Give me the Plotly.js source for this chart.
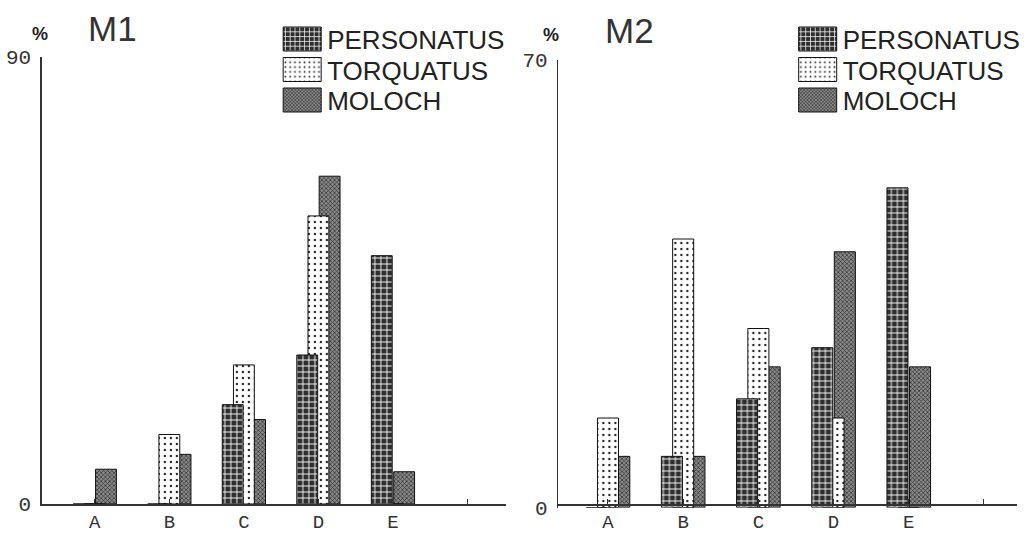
<!DOCTYPE html>
<html>
<head>
<meta charset="utf-8">
<script src="https://cdn.plot.ly/plotly-3.0.1.min.js"></script>
<style>html,body{margin:0;padding:0;background:#fff;}#chart{width:1026px;height:535px;}</style>
</head>
<body>
<div id="chart"></div>
<script>
// ---- data ----
const categories = ['A', 'B', 'C', 'D', 'E'];
const tickLabels = ['A', 'B', 'C', 'D', 'E', ''];
const seriesNames = ['PERSONATUS', 'TORQUATUS', 'MOLOCH'];
// M1 (left panel), %
const m1Personatus = [0, 0, 20, 30, 50];
const m1Torquatus  = [0, 14, 28, 58, 0];
const m1Moloch     = [7, 10, 17, 66, 6.5];
// M2 (right panel), %
const m2Personatus = [0, 8, 17, 25, 50];
const m2Torquatus  = [14, 42, 28, 14, 0];
const m2Moloch     = [8, 8, 22, 40, 22];
const m1Max = 90, m2Max = 70;

// ---- styles ----
const xPos = categories.map((c, i) => i);
const W = 0.28, SH = 0.15;
const styles = {
  PERSONATUS: {offset: -SH - W/2, color: '#2e2e2e',
    pattern: {shape: '+', bgcolor: '#2e2e2e', fgcolor: '#ffffff', size: 6, solidity: 0.28, fillmode: 'replace'}},
  TORQUATUS: {offset: -W/2, color: '#ffffff',
    pattern: {shape: '.', bgcolor: '#ffffff', fgcolor: '#222222', size: 6, solidity: 0.12, fillmode: 'replace'}},
  MOLOCH: {offset: SH - W/2, color: '#777777',
    pattern: {shape: 'x', bgcolor: '#8a8a8a', fgcolor: '#2a2a2a', size: 3, solidity: 0.4, fillmode: 'replace'}}
};

function mk(name, vals, xa, ya, leg) {
  const s = styles[name];
  return {
    type: 'bar', name: name, x: xPos, y: vals, xaxis: xa, yaxis: ya,
    width: W, offset: s.offset, legend: leg, hoverinfo: 'skip',
    marker: {color: s.color, pattern: s.pattern, line: {color: '#111', width: 1}}
  };
}
// draw back-to-front: MOLOCH, TORQUATUS, PERSONATUS (front)
const traces = [
  mk('MOLOCH', m1Moloch, 'x', 'y', 'legend'),
  mk('TORQUATUS', m1Torquatus, 'x', 'y', 'legend'),
  mk('PERSONATUS', m1Personatus, 'x', 'y', 'legend'),
  mk('MOLOCH', m2Moloch, 'x2', 'y2', 'legend2'),
  mk('TORQUATUS', m2Torquatus, 'x2', 'y2', 'legend2'),
  mk('PERSONATUS', m2Personatus, 'x2', 'y2', 'legend2')
];

const monoFont = {family: 'Liberation Mono', size: 21, color: '#333'};
const xTickFont = {family: 'Liberation Mono', size: 19, color: '#333'};
function xax(domain, range) {
  return {domain: domain, range: range, tickmode: 'array', tickvals: [0,1,2,3,4,5], ticktext: tickLabels,
    ticks: 'inside', ticklen: 5, tickcolor: '#333', showline: true, linecolor: '#333', linewidth: 1.5,
    showgrid: false, zeroline: false, tickfont: xTickFont, ticklabelstandoff: 0, fixedrange: true};
}
function yax(domain, max, anchor) {
  return {domain: domain, range: [0, max], tickmode: 'array', tickvals: [0, max], ticktext: ['0', String(max)],
    ticks: 'inside', ticklen: 6, tickcolor: '#333', showline: true, linecolor: '#333', linewidth: 1.5,
    showgrid: false, zeroline: false, tickfont: monoFont, ticklabelstandoff: 5, anchor: anchor, fixedrange: true};
}
const legendFont = {family: 'Liberation Sans', size: 26, color: '#222'};
const layout = {
  width: 1026, height: 535, margin: {l: 0, r: 0, t: 0, b: 0},
  paper_bgcolor: '#fff', plot_bgcolor: '#fff', barmode: 'overlay', showlegend: true,
  xaxis: xax([42/1026, 507/1026], [-0.71, 5.51]),
  yaxis: yax([1 - 504/535, 1 - 57/535], m1Max, 'x'),
  xaxis2: xax([560/1026, 1020/1026], [-0.66, 5.44]),
  yaxis2: yax([1 - 507.5/535, 1 - 60/535], m2Max, 'x2'),
  legend: {x: 278/1026, y: 1 - 14/535, xanchor: 'left', yanchor: 'top', traceorder: 'reversed',
    font: legendFont, bgcolor: 'rgba(0,0,0,0)', itemwidth: 40, tracegroupgap: 0},
  legend2: {x: 795/1026, y: 1 - 14/535, xanchor: 'left', yanchor: 'top', traceorder: 'reversed',
    font: legendFont, bgcolor: 'rgba(0,0,0,0)', itemwidth: 40, tracegroupgap: 0},
  annotations: [
    {text: 'M1', x: 113/1026, y: 1 - 29/535, xref: 'paper', yref: 'paper', showarrow: false,
      xanchor: 'center', yanchor: 'middle', font: {family: 'Liberation Sans', size: 35, color: '#333'}},
    {text: 'M2', x: 631/1026, y: 1 - 30/535, xref: 'paper', yref: 'paper', showarrow: false,
      xanchor: 'center', yanchor: 'middle', font: {family: 'Liberation Sans', size: 35, color: '#333'}},
    {text: '%', x: 40/1026, y: 1 - 34/535, xref: 'paper', yref: 'paper', showarrow: false,
      xanchor: 'center', yanchor: 'middle', font: {family: 'Liberation Sans', size: 18, color: '#222', weight: 'bold'}},
    {text: '%', x: 553/1026, y: 1 - 35/535, xref: 'paper', yref: 'paper', showarrow: false,
      xanchor: 'center', yanchor: 'middle', font: {family: 'Liberation Sans', size: 18, color: '#222', weight: 'bold'}}
  ]
};
const legendRowTop = 39, legendRowStep = 30.5;
Plotly.newPlot('chart', traces, layout, {displayModeBar: false, staticPlot: true}).then(function (gd) {
  // enlarge legend swatches to match the reference's wide boxes
  document.querySelectorAll('.legendpoints path').forEach(function (p) {
    p.setAttribute('d', 'M-19,-12H19V12H-19Z');
  });
  // tighten legend rows to the reference spacing
  const legends = {};
  document.querySelectorAll('g.traces').forEach(function (t) {
    const key = Math.round(t.getBoundingClientRect().left / 200);
    (legends[key] = legends[key] || []).push(t);
  });
  Object.keys(legends).forEach(function (k) {
    const items = legends[k].slice().sort(function (a, b) {
      return a.getBoundingClientRect().top - b.getBoundingClientRect().top;
    });
    items.forEach(function (t, i) {
      const p = t.querySelector('.legendpoints path');
      const r = p.getBoundingClientRect();
      const c = r.top + r.height / 2;
      const dy = legendRowTop + i * legendRowStep - c;
      t.setAttribute('transform', (t.getAttribute('transform') || '') + ' translate(0,' + dy.toFixed(1) + ')');
    });
  });
});
</script>
</body>
</html>
